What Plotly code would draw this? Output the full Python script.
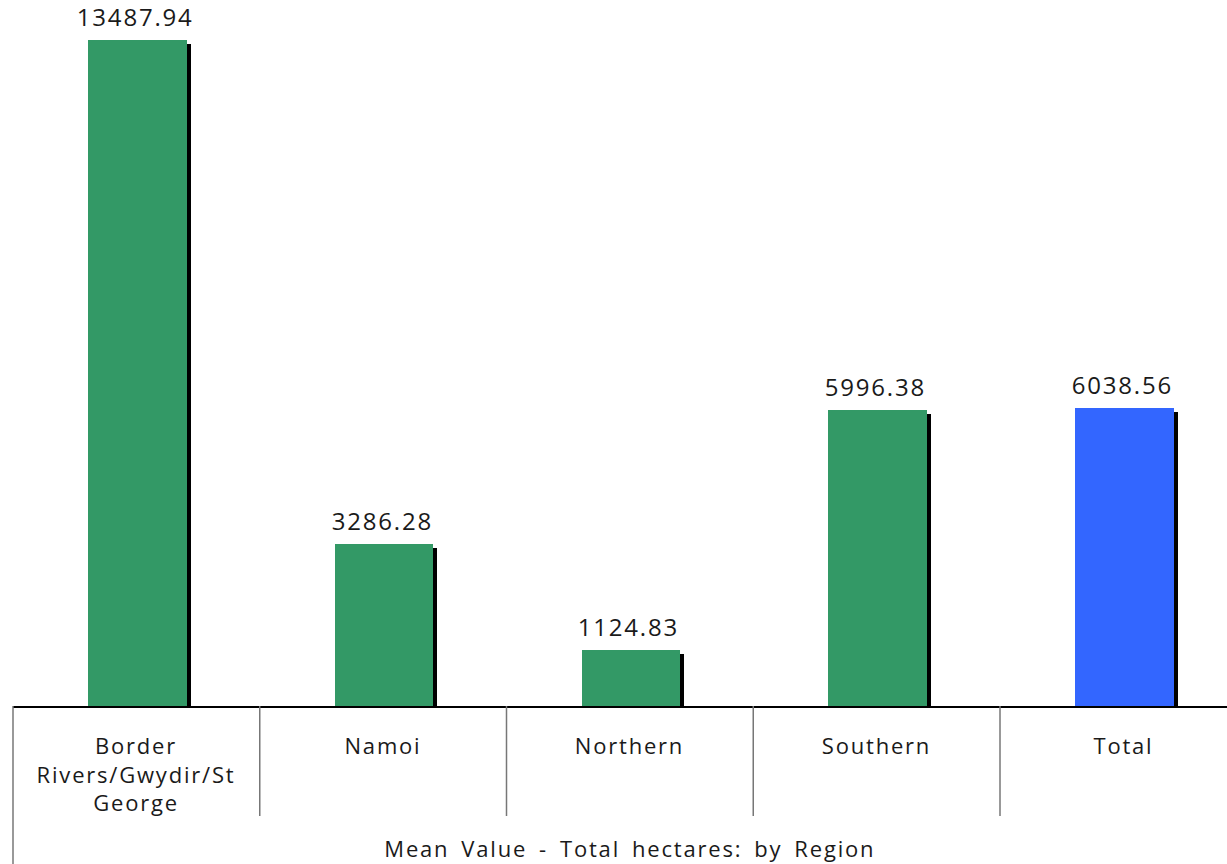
import plotly.graph_objects as go

# Mean total hectares by region
regions = ["Border Rivers/Gwydir/St George", "Namoi", "Northern", "Southern", "Total"]
tick_labels = ["Border<br>Rivers/Gwydir/St<br>George", "Namoi", "Northern", "Southern", "Total"]
mean_hectares = [13487.94, 3286.28, 1124.83, 5996.38, 6038.56]
value_labels = ["13487.94", "3286.28", "1124.83", "5996.38", "6038.56"]
bar_colours = ["#339966", "#339966", "#339966", "#339966", "#3366FF"]
axis_title = "Mean Value - Total hectares: by Region"

W, H = 1227, 864
M_L, M_B = 13, 158
PLOT_W, PLOT_H = W - M_L, H - M_B
CAT_PX = 246.75
Y_MAX = 14298
X_MAX = -0.5 + PLOT_W / CAT_PX

FONT = dict(family="Open Sans, Arial, sans-serif", size=22, color="#1a1a1a")
VALUE_FONT = dict(FONT, size=24)

xs = list(range(len(regions)))
drop = 4 * Y_MAX / PLOT_H  # shadow sits a few px lower

fig = go.Figure()
# drop shadow behind each bar
fig.add_trace(go.Bar(
    x=xs, y=[v - drop for v in mean_hectares],
    width=0.4, offset=-0.2 + 5 / CAT_PX,
    marker=dict(color="black", line=dict(width=0)),
    hoverinfo="skip", showlegend=False,
))
fig.add_trace(go.Bar(
    x=xs, y=mean_hectares, width=0.4, offset=-0.2 + 1 / CAT_PX,
    marker=dict(color=bar_colours, line=dict(width=0)),
    customdata=regions,
    hovertemplate="%{customdata}: %{y}<extra></extra>",
    showlegend=False,
))

annotations = []
for x, v, lab in zip(xs, mean_hectares, value_labels):
    annotations.append(dict(x=x - 1 / CAT_PX, y=v, text=lab, showarrow=False,
                            yanchor="bottom", yshift=5, font=VALUE_FONT))
for x, lab in zip(xs, tick_labels):
    annotations.append(dict(x=x, y=0, xref="x", yref="paper", text=lab,
                            showarrow=False, yanchor="top", yshift=-22, font=FONT))
annotations.append(dict(x=2, y=0, xref="x", yref="paper",
                        text=axis_title, showarrow=False, yanchor="middle",
                        yshift=-142, font=FONT))

# category separators under the axis
shapes = []
span = X_MAX + 0.5
for i in range(len(regions)):
    depth = (H - PLOT_H) if i == 0 else 110
    shapes.append(dict(type="line", xref="paper", yref="paper",
                       x0=i / span, x1=i / span, y0=0, y1=-depth / PLOT_H,
                       line=dict(color="#777777", width=1.5)))

fig.update_layout(
    width=W, height=H, autosize=False,
    margin=dict(l=M_L, r=0, t=0, b=M_B),
    barmode="overlay", bargap=0,
    paper_bgcolor="white", plot_bgcolor="white",
    annotations=annotations, shapes=shapes,
    showlegend=False,
)
fig.update_xaxes(range=[-0.5, X_MAX], showgrid=False, zeroline=False,
                 showticklabels=False, ticks="", showline=True,
                 linecolor="black", linewidth=1.5)
fig.update_yaxes(range=[0, Y_MAX], visible=False)

spacing_css = (
    "var s=document.createElement('style');"
    "s.textContent='body{margin:0}.main-svg text{letter-spacing:1.8px;word-spacing:4.5px;}';"
    "document.head.appendChild(s);"
)
fig.write_html("out.html", post_script=spacing_css, config={"displayModeBar": False})
